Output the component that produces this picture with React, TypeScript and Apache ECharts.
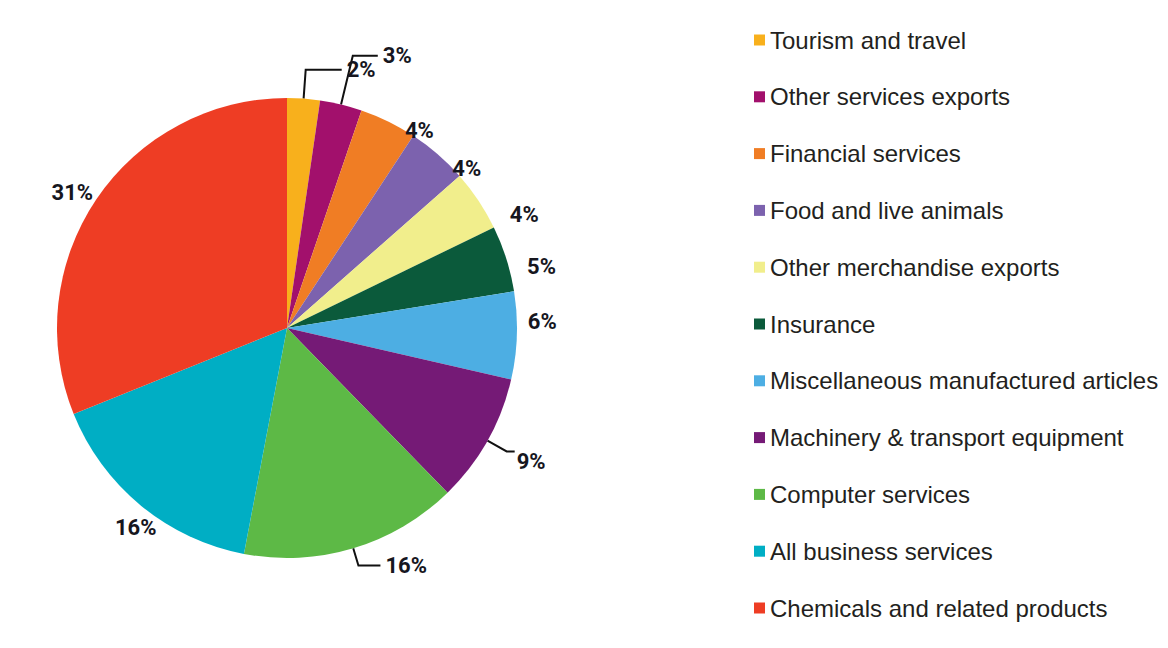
import React, { useEffect, useRef } from "react";
import * as echarts from "echarts";

const categories = [
  "Tourism and travel",
  "Other services exports",
  "Financial services",
  "Food and live animals",
  "Other merchandise exports",
  "Insurance",
  "Miscellaneous manufactured articles",
  "Machinery & transport equipment",
  "Computer services",
  "All business services",
  "Chemicals and related products",
];
// slice sizes (percent)
const shares = [2.3, 2.95, 4.0, 4.25, 4.3, 4.65, 6.15, 9.1, 15.3, 15.9, 31.1];
// percentages printed on the chart
const printedLabels = ["2%", "3%", "4%", "4%", "4%", "5%", "6%", "9%", "16%", "16%", "31%"];
const colors = [
  "#f8b01c",
  "#a2106c",
  "#f07d24",
  "#7c62ae",
  "#f1ee8c",
  "#0b5a3b",
  "#4daee3",
  "#751a76",
  "#5db946",
  "#00aec4",
  "#ee3d24",
];

// leader line settings per slice: [show, length, length2]
const leaderLines: [boolean, number, number][] = [
  [true, 29, 36],
  [true, 50, 25],
  [false, 4, 2],
  [false, 4, 2],
  [false, 4, 2],
  [false, 4, 2],
  [false, 4, 2],
  [true, 22, 8],
  [true, 18, 22],
  [false, 4, 2],
  [false, 4, 2],
];
// small nudges for the labels
const labelNudge: [number, number][] = [
  [0, 0],
  [0, 0],
  [8, 13],
  [5, 17],
  [21, 16],
  [10, 9],
  [0, -14],
  [-3, 10],
  [0, 0],
  [25, 19],
  [7, -5],
];

export default function App() {
  const ref = useRef<HTMLDivElement>(null);
  useEffect(() => {
    if (!ref.current) return;
    const chart = echarts.init(ref.current, undefined, { renderer: "svg" });
    const data = categories.map((name, i) => ({
      name,
      value: shares[i],
      itemStyle: { color: colors[i] },
      labelLine: {
        show: leaderLines[i][0],
        length: leaderLines[i][1],
        length2: leaderLines[i][2],
      },
    }));
    chart.setOption({
      animation: false,
      backgroundColor: "#ffffff",
      legend: {
        orient: "vertical",
        left: 749,
        top: 23,
        itemWidth: 11,
        itemHeight: 11,
        itemGap: 32.8,
        icon: "rect",
        selectedMode: false,
        data: categories,
        textStyle: {
          fontFamily: "'Liberation Sans', Arial, sans-serif",
          fontSize: 24,
          lineHeight: 24,
          color: "#231f20",
        },
      },
      series: [
        {
          type: "pie",
          center: [287, 328],
          radius: 230,
          startAngle: 90,
          clockwise: true,
          avoidLabelOverlap: false,
          data,
          label: {
            show: true,
            position: "outside",
            formatter: (p: any) => printedLabels[p.dataIndex],
            fontFamily: "'Liberation Sans Narrow', Roboto, sans-serif",
            fontWeight: "bold",
            fontSize: 22,
            color: "#16161e",
          },
          labelLine: {
            lineStyle: { color: "#111", width: 2 },
          },
          labelLayout: (p: any) => {
            const n = labelNudge[p.dataIndex];
            if (n[0] === 0 && n[1] === 0) return {};
            return { dx: n[0], dy: n[1] };
          },
          itemStyle: { borderWidth: 0 },
          emphasis: { disabled: true },
        },
      ],
    });
    return () => chart.dispose();
  }, []);
  return (
    <div
      ref={ref}
      style={{ position: "absolute", left: 0, top: 0, width: 1168, height: 648 }}
    />
  );
}
